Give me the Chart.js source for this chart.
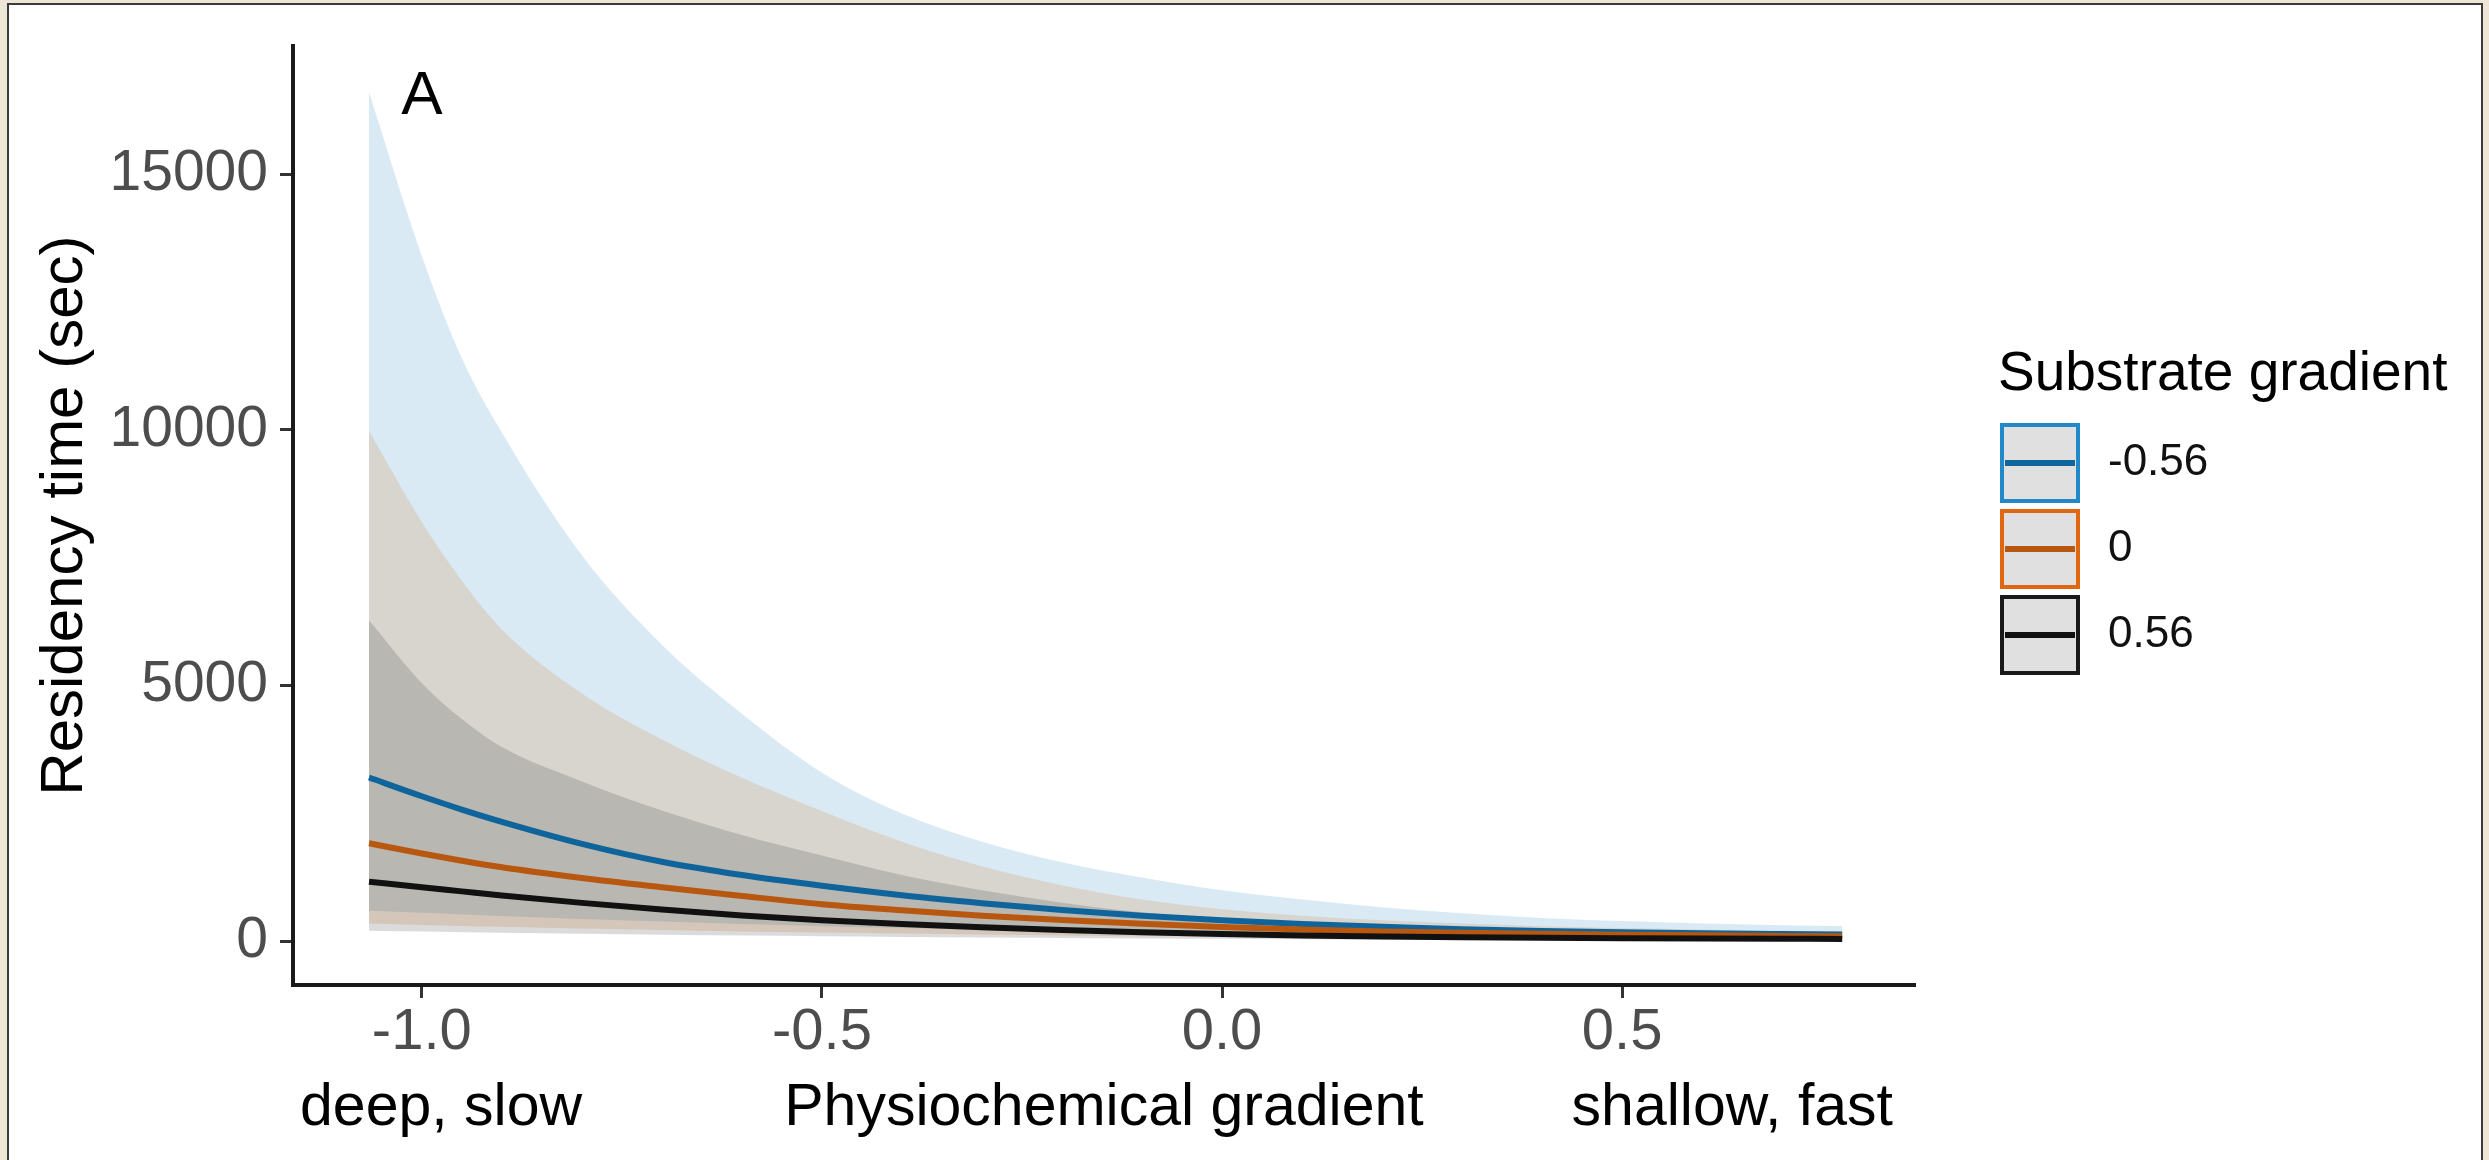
<!DOCTYPE html>
<html>
<head>
<meta charset="utf-8">
<title>Residency time</title>
<script src="https://cdn.jsdelivr.net/npm/chart.js@4.4.1/dist/chart.umd.min.js"></script>
<style>
  html, body { margin: 0; padding: 0; background: #ede5d6; }
  #wrap { position: relative; width: 2489px; height: 1160px; }
</style>
</head>
<body>
<div id="wrap"><canvas id="chart_residency"></canvas></div>
<script>
// physiochemical gradient positions
var xValues = [-1.066, -1.0, -0.95, -0.9, -0.8, -0.7, -0.6, -0.5, -0.4, -0.3, -0.2, -0.1, 0.0, 0.1, 0.2, 0.3, 0.4, 0.5, 0.6, 0.7, 0.775];

// substrate gradient -0.56
var blueMean  = [3205, 2840, 2580, 2340, 1910, 1560, 1300, 1090, 905, 750, 615, 505, 415, 343, 287, 242, 207, 180, 160, 145, 135];
var blueUpper = [16600, 13400, 11400, 9950, 7550, 5800, 4450, 3300, 2500, 1950, 1550, 1250, 1000, 820, 670, 550, 460, 400, 350, 320, 305];
var blueLower = [600, 560, 530, 500, 440, 390, 340, 300, 265, 230, 200, 175, 150, 130, 112, 97, 84, 73, 64, 56, 50];

// substrate gradient 0
var orangeMean  = [1920, 1720, 1580, 1450, 1240, 1060, 890, 730, 610, 505, 420, 345, 285, 235, 198, 170, 150, 134, 121, 110, 103];
var orangeUpper = [9980, 8200, 7050, 6100, 4850, 3950, 3200, 2550, 1950, 1470, 1100, 820, 630, 505, 415, 350, 300, 262, 233, 211, 196];
var orangeLower = [350, 325, 305, 290, 255, 225, 198, 175, 155, 135, 117, 102, 88, 76, 66, 57, 50, 44, 39, 35, 32];

// substrate gradient 0.56
var blackMean  = [1170, 1060, 980, 900, 755, 625, 510, 415, 340, 278, 225, 180, 145, 118, 98, 84, 73, 65, 58, 53, 50];
var blackUpper = [6280, 5050, 4350, 3800, 3130, 2560, 2080, 1680, 1300, 1000, 760, 570, 430, 330, 260, 210, 175, 150, 130, 115, 105];
var blackLower = [210, 195, 183, 172, 150, 132, 116, 102, 90, 79, 69, 60, 52, 45, 39, 34, 30, 26, 23, 20, 18];

var xTicks = [-1.0, -0.5, 0.0, 0.5];
var yTicks = [0, 5000, 10000, 15000];

var seriesLabels = ['-0.56', '0', '0.56'];
var legendTitle = 'Substrate gradient';
var yTitle = 'Residency time (sec)';
var xTitleParts = ['deep, slow', 'Physiochemical gradient', 'shallow, fast'];
var panelTag = { x: -1.0, y: 16500, text: 'A' };

var FONT = '"Liberation Sans", Arial, sans-serif';

function pts(ys) {
    return xValues.map(function (x, i) { return { x: x, y: ys[i] }; });
}

var lineColors = ['#0f659b', '#b8570f', '#111111'];
var keyBorders = ['#2288c8', '#e0660f', '#1a1a1a'];
var bandFills = ['rgba(0,114,178,0.15)', 'rgba(213,94,0,0.15)', 'rgba(0,0,0,0.14)'];

function meanLine(data, i, ord) {
    return { data: pts(data), borderColor: lineColors[i], borderWidth: 6, pointRadius: 0,
             fill: false, cubicInterpolationMode: 'monotone', order: ord };
}
function lowerEdge(data) {
    return { data: pts(data), borderWidth: 0, borderColor: 'rgba(0,0,0,0)', pointRadius: 0,
             fill: false, cubicInterpolationMode: 'monotone', order: 20 };
}
function upperEdge(data, i, target, ord) {
    return { data: pts(data), borderWidth: 0, borderColor: 'rgba(0,0,0,0)', pointRadius: 0,
             fill: target, backgroundColor: bandFills[i], cubicInterpolationMode: 'monotone', order: ord };
}

var decor = {
    id: 'decor',
    beforeDraw: function (chart) {
        var ctx = chart.ctx;
        ctx.save();
        ctx.fillStyle = '#ede5d6';
        ctx.fillRect(0, 0, chart.width, chart.height);
        ctx.fillStyle = '#ffffff';
        ctx.fillRect(9, 5, 2472, 1160);
        ctx.strokeStyle = '#3a3a3a';
        ctx.lineWidth = 2;
        ctx.strokeRect(8, 4, 2474, 1170);
        ctx.restore();
    },
    afterDraw: function (chart) {
        var ctx = chart.ctx;
        var area = chart.chartArea;
        ctx.save();
        // y title
        ctx.fillStyle = '#000000';
        ctx.font = '60px ' + FONT;
        ctx.textAlign = 'center';
        ctx.textBaseline = 'alphabetic';
        ctx.translate(82, (area.top + area.bottom) / 2);
        ctx.rotate(-Math.PI / 2);
        ctx.fillText(yTitle, 0, 0);
        ctx.restore();

        // x title, three parts
        ctx.save();
        ctx.fillStyle = '#000000';
        ctx.font = '59px ' + FONT;
        ctx.textBaseline = 'alphabetic';
        ctx.textAlign = 'left';
        ctx.fillText(xTitleParts[0], 300, 1125);
        ctx.textAlign = 'center';
        ctx.fillText(xTitleParts[1], (area.left + area.right) / 2, 1125);
        ctx.textAlign = 'right';
        ctx.fillText(xTitleParts[2], 1893, 1125);
        ctx.restore();

        // panel tag
        ctx.save();
        ctx.fillStyle = '#000000';
        ctx.font = '62px ' + FONT;
        ctx.textAlign = 'center';
        ctx.textBaseline = 'middle';
        ctx.fillText(panelTag.text, chart.scales.x.getPixelForValue(panelTag.x), chart.scales.y.getPixelForValue(panelTag.y));
        ctx.restore();

        // legend
        ctx.save();
        ctx.fillStyle = '#000000';
        ctx.font = '55px ' + FONT;
        ctx.textAlign = 'left';
        ctx.textBaseline = 'alphabetic';
        ctx.fillText(legendTitle, 1998, 390);
        var kx = 2000, ky = 423, ks = 80, pitch = 86;
        for (var i = 0; i < seriesLabels.length; i++) {
            var top = ky + i * pitch;
            ctx.fillStyle = '#e0e0e0';
            ctx.fillRect(kx, top, ks, ks);
            ctx.strokeStyle = keyBorders[i];
            ctx.lineWidth = 4;
            ctx.strokeRect(kx + 2, top + 2, ks - 4, ks - 4);
            ctx.strokeStyle = lineColors[i];
            ctx.lineWidth = 6;
            ctx.beginPath();
            ctx.moveTo(kx + 5, top + ks / 2);
            ctx.lineTo(kx + ks - 5, top + ks / 2);
            ctx.stroke();
            ctx.fillStyle = '#111111';
            ctx.font = '44px ' + FONT;
            ctx.textBaseline = 'middle';
            ctx.fillText(seriesLabels[i], 2108, top + ks / 2);
        }
        ctx.restore();
    }
};

var chart_residency = new Chart(document.getElementById('chart_residency'), {
    type: 'line',
    data: {
        datasets: [
            meanLine(blueMean, 0, 2),
            meanLine(orangeMean, 1, 1),
            meanLine(blackMean, 2, 0),
            lowerEdge(blueLower),
            upperEdge(blueUpper, 0, 3, 10),
            lowerEdge(orangeLower),
            upperEdge(orangeUpper, 1, 5, 9),
            lowerEdge(blackLower),
            upperEdge(blackUpper, 2, 7, 8)
        ]
    },
    options: {
        animation: false,
        responsive: true,
        maintainAspectRatio: false,
        devicePixelRatio: 1,
        layout: { padding: { left: 0, top: 34, right: 574, bottom: 0 } },
        plugins: {
            legend: { display: false },
            tooltip: { enabled: false },
            title: { display: false }
        },
        scales: {
            x: {
                type: 'linear',
                min: -1.161,
                max: 0.866,
                afterBuildTicks: function (scale) {
                    scale.ticks = xTicks.map(function (v) { return { value: v }; });
                },
                afterFit: function (scale) { scale.height = 175; },
                ticks: {
                    callback: function (v) { return v.toFixed(1); },
                    font: { size: 58, family: FONT },
                    color: '#4d4d4d',
                    padding: 0,
                    maxRotation: 0,
                    autoSkip: false
                },
                grid: { drawOnChartArea: false, drawTicks: true, tickLength: 13, tickWidth: 3, tickColor: '#333333' },
                border: { display: true, color: '#1a1a1a', width: 4 }
            },
            y: {
                type: 'linear',
                min: -850,
                max: 17500,
                afterBuildTicks: function (scale) {
                    scale.ticks = yTicks.map(function (v) { return { value: v }; });
                },
                afterFit: function (scale) { scale.width = 293; },
                ticks: {
                    callback: function (v) { return String(v); },
                    font: { size: 57, family: FONT },
                    color: '#4d4d4d',
                    padding: 12,
                    autoSkip: false
                },
                grid: { drawOnChartArea: false, drawTicks: true, tickLength: 13, tickWidth: 3, tickColor: '#333333' },
                border: { display: true, color: '#1a1a1a', width: 4 }
            }
        }
    },
    plugins: [decor]
});
</script>
</body>
</html>
